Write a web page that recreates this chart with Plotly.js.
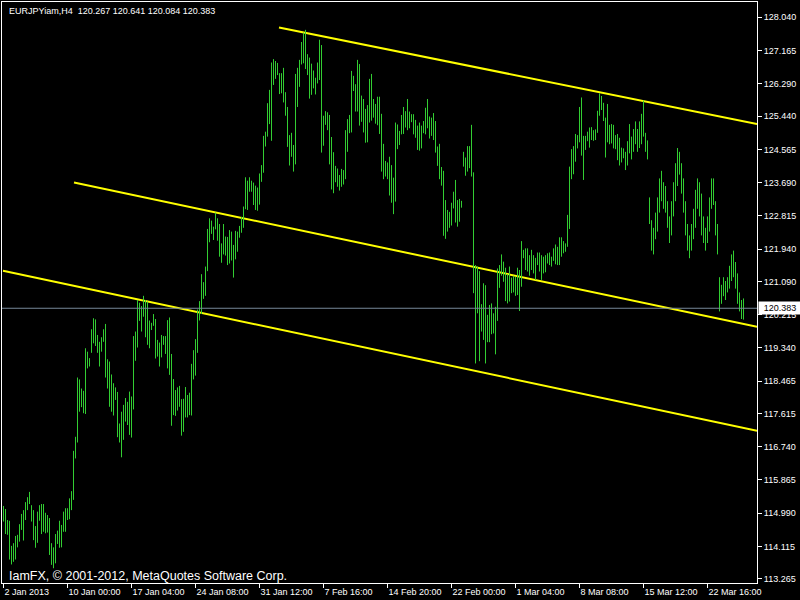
<!DOCTYPE html>
<html>
<head>
<meta charset="utf-8">
<script src="https://cdn.plot.ly/plotly-3.0.1.min.js"></script>
<style>
  html, body { margin: 0; padding: 0; background: #000; }
  #chart { width: 800px; height: 600px; }
</style>
</head>
<body>
<div id="chart"></div>
<script>
// EURJPY H4 bars, 2 Jan 2013 - 26 Mar 2013 (one entry per 4-hour bar)
const barHigh = [
  115.18,115.10,114.81,114.79,114.13,114.20,114.39,114.42,114.70,114.97,
  115.07,115.28,115.41,115.55,115.20,115.07,114.65,115.03,115.20,115.23,
  115.23,115.00,114.94,114.86,114.20,114.09,114.44,114.53,114.79,114.68,
  115.03,115.12,115.12,115.38,115.57,116.63,117.00,118.56,118.51,118.27,
  118.21,119.33,119.24,119.07,119.83,120.12,120.09,119.68,119.50,119.62,
  119.83,119.97,119.04,118.98,118.64,118.41,118.30,118.18,117.35,117.66,
  117.84,118.02,117.92,118.19,118.06,119.65,119.77,120.60,120.53,120.44,
  120.71,120.60,120.56,120.06,120.00,120.23,120.10,119.55,119.48,119.68,
  119.65,119.65,120.07,120.14,119.18,118.52,118.23,118.30,118.34,117.99,
  118.00,118.31,118.10,118.16,118.92,119.28,119.57,120.35,120.57,121.28,
  121.07,121.48,122.47,122.75,122.69,122.53,122.90,122.75,122.60,122.09,
  122.60,122.27,122.26,122.44,122.40,122.05,122.42,122.40,122.55,122.79,
  123.06,123.83,123.74,123.83,123.74,123.69,123.61,123.56,123.93,124.15,
  124.92,125.03,125.78,126.13,126.85,126.94,126.89,126.84,126.57,126.57,
  126.71,126.07,125.68,124.94,125.00,124.68,126.55,126.71,126.92,127.39,
  127.64,127.71,127.07,126.98,126.82,126.64,126.45,126.85,127.45,127.31,
  125.45,125.57,125.54,125.47,124.89,124.49,124.13,124.06,123.89,124.05,
  124.02,125.07,125.36,125.47,126.63,126.50,126.28,126.92,126.81,125.98,
  125.89,125.63,125.73,126.42,126.55,125.89,125.76,125.95,125.95,125.50,
  124.71,124.26,124.22,124.37,124.15,123.82,125.27,125.22,125.05,125.47,
  125.68,125.57,125.89,125.56,125.49,125.49,125.34,125.19,125.27,125.19,
  125.31,125.66,125.89,125.43,125.40,125.52,125.31,124.64,124.71,124.10,
  124.00,123.23,122.97,122.92,123.16,123.45,123.76,123.23,123.26,123.21,
  124.50,124.35,124.65,124.65,125.21,123.96,121.52,121.48,121.36,120.49,
  121.04,120.99,120.21,120.47,120.51,120.25,120.42,121.43,121.52,121.80,
  121.61,121.45,121.28,121.48,121.19,121.24,121.21,121.45,121.39,122.15,
  121.92,121.96,121.96,121.78,121.92,121.78,121.71,121.85,121.85,121.78,
  121.74,121.78,121.83,121.85,121.74,121.96,122.06,122.00,122.25,122.25,
  122.15,122.09,122.84,124.11,124.57,124.65,124.97,124.94,125.68,125.93,
  124.92,124.92,125.03,125.14,125.15,125.07,125.09,125.58,126.04,125.97,
  125.79,125.40,125.76,125.21,125.23,125.21,124.94,124.97,124.87,124.61,
  124.59,124.50,124.78,125.23,124.90,125.10,125.30,125.10,125.30,125.50,
  125.85,125.00,124.80,123.30,122.70,122.50,122.90,123.30,123.80,124.00,
  123.70,123.60,123.20,122.80,123.20,123.70,124.20,124.60,124.50,124.20,
  123.80,123.20,122.60,122.30,122.60,123.00,123.50,123.80,123.70,123.40,
  122.80,122.50,122.80,123.30,123.80,123.80,123.20,122.60,121.20,121.00,
  121.20,121.10,121.20,121.50,121.80,121.90,121.60,121.30,120.80,120.60,
  120.641
];
const barLow = [
  114.77,114.44,114.42,113.77,113.64,113.71,113.77,114.09,114.24,114.55,
  114.27,114.81,115.07,115.23,114.77,114.28,114.08,114.21,114.79,114.44,
  114.50,114.46,114.48,113.89,113.63,113.54,113.67,114.18,114.08,114.09,
  114.50,114.50,114.81,114.83,115.07,115.34,116.43,116.85,117.66,117.78,
  117.62,117.60,118.80,118.85,119.21,119.46,119.39,119.21,118.85,119.24,
  119.50,118.56,118.27,117.79,117.66,117.56,117.97,116.99,116.85,116.46,
  116.92,117.40,117.31,117.05,116.98,117.72,119.00,119.35,120.05,119.77,
  120.16,119.62,119.42,119.33,119.81,119.92,119.06,119.11,118.85,119.09,
  119.42,119.18,118.80,118.63,117.29,117.57,117.55,117.69,117.79,117.03,
  117.13,117.51,117.51,117.57,117.56,118.51,118.61,119.21,120.06,120.23,
  120.63,120.71,121.36,122.12,122.34,122.18,122.46,122.16,121.74,121.58,
  121.80,121.77,121.52,121.56,121.64,121.19,121.67,121.87,122.24,122.37,
  122.50,122.99,122.97,123.45,123.45,123.10,122.97,122.95,123.11,123.71,
  123.95,124.64,124.90,125.23,124.79,126.26,126.42,126.52,126.02,126.04,
  125.80,125.45,124.63,124.14,124.37,123.98,124.17,125.68,126.21,126.80,
  126.83,126.68,126.52,125.90,126.00,126.17,126.01,126.30,126.39,124.48,
  124.66,125.21,125.07,124.17,123.51,123.41,123.70,123.58,123.48,123.58,
  123.64,123.78,124.50,124.99,125.01,126.10,125.56,125.56,125.19,125.29,
  125.01,124.74,124.75,125.27,125.32,125.40,125.24,125.20,124.97,123.98,
  123.78,123.85,123.78,123.35,123.16,122.86,123.19,124.57,124.68,124.96,
  124.97,125.14,125.07,125.12,125.28,124.96,124.87,124.55,124.53,124.59,
  124.99,124.96,125.12,124.85,124.92,124.81,124.48,124.13,123.78,123.61,
  122.29,122.21,122.40,122.50,122.56,123.01,122.64,122.53,122.66,123.03,
  124.11,123.87,123.98,124.07,123.85,120.78,118.93,120.25,118.99,119.77,
  119.55,118.93,119.49,119.49,119.70,119.72,119.17,120.05,120.92,121.24,
  121.08,120.57,120.51,120.56,120.78,120.80,120.71,120.73,120.31,120.95,
  121.70,121.39,121.35,121.24,121.39,121.30,121.13,121.52,121.35,121.13,
  121.30,121.33,121.56,121.52,121.48,121.63,121.54,121.52,121.52,121.74,
  121.83,121.87,122.00,122.47,123.78,123.91,124.24,124.59,124.75,124.40,
  123.76,124.55,124.78,124.61,124.81,124.79,124.81,125.00,125.45,125.60,
  125.31,124.35,124.75,124.70,124.72,124.59,124.57,124.28,124.14,124.22,
  124.33,124.02,124.14,124.46,124.30,124.50,124.70,124.50,124.60,124.70,
  124.90,124.50,124.30,122.60,121.90,121.80,122.20,122.40,122.90,123.20,
  123.00,122.90,122.50,122.10,122.30,122.80,123.20,123.60,123.90,123.40,
  122.90,122.30,121.90,121.70,121.90,122.20,122.50,123.00,122.80,122.30,
  122.10,121.90,122.10,122.40,123.00,123.10,122.30,121.80,120.30,120.50,
  120.70,120.60,120.80,120.90,121.10,121.20,120.90,120.50,120.30,120.10,
  120.084
];

// Last bar quote shown in the header
const symbolName = 'EURJPYiam,H4';
const lastOpen = 120.267, lastHigh = 120.641, lastLow = 120.084, lastClose = 120.383;

// Time axis labels (every 32 bars)
const timeTickBars = [0, 32, 64, 96, 128, 160, 192, 224, 256, 288, 320, 352];
const timeTickLabels = ['2 Jan 2013', '10 Jan 00:00', '17 Jan 04:00', '24 Jan 08:00',
  '31 Jan 12:00', '7 Feb 16:00', '14 Feb 20:00', '22 Feb 00:00', '1 Mar 04:00',
  '8 Mar 08:00', '15 Mar 12:00', '22 Mar 16:00'];

// Price scale labels
const priceTickLabels = ['128.040', '127.165', '126.290', '125.440', '124.565', '123.690',
  '122.815', '121.940', '121.090', '120.215', '119.340', '118.465', '117.615', '116.740',
  '115.865', '114.990', '114.115', '113.265'];

// Descending channel trend lines: anchor (bar, price) pairs
const channelStartBar = [137.75, 35.25, -0.25];
const channelStartPrice = [127.772, 123.692, 121.368];
const channelEndBar = [376.75, 376.75, 376.75];
const channelEndPrice = [125.232, 119.897, 117.160];

const copyrightText = 'IamFX, \u00a9 2001-2012, MetaQuotes Software Corp.';

// ---- build traces ----
const segX = [], segY = [];
for (let i = 0; i < barHigh.length; i++) {
  segX.push(i, i, null);
  segY.push(barLow[i], barHigh[i], null);
}

const channelTraces = channelStartBar.map((b, k) => ({
  type: 'scatter', mode: 'lines',
  x: [b, channelEndBar[k]],
  y: [channelStartPrice[k], channelEndPrice[k]],
  line: { color: '#ffff00', width: 2 },
  hoverinfo: 'skip', showlegend: false
}));

const barTrace = {
  type: 'scatter', mode: 'lines',
  x: segX, y: segY,
  line: { color: '#32cd32', width: 1 },
  connectgaps: false, hoverinfo: 'skip', showlegend: false
};

const axisFont = { family: 'Liberation Sans, Arial, sans-serif', size: 9, color: '#ffffff' };

const layout = {
  width: 800, height: 600,
  paper_bgcolor: '#000000', plot_bgcolor: '#000000',
  margin: { l: 2, r: 43, t: 2, b: 17, pad: 0 },
  showlegend: false,
  xaxis: {
    range: [-0.75, 376.75],
    tickmode: 'array', tickvals: timeTickBars, ticktext: timeTickLabels,
    ticks: 'outside', ticklen: 4, tickwidth: 1, tickcolor: '#ffffff',
    ticklabelposition: 'outside right',
    tickfont: axisFont,
    showline: true, linecolor: '#ffffff', linewidth: 1, mirror: true,
    showgrid: false, zeroline: false, fixedrange: true
  },
  yaxis: {
    side: 'right',
    range: [113.152, 128.443],
    tickmode: 'array', tickvals: priceTickLabels.map(Number), ticktext: priceTickLabels,
    ticks: 'outside', ticklen: 4, tickwidth: 1, tickcolor: '#ffffff',
    tickfont: axisFont,
    showline: true, linecolor: '#ffffff', linewidth: 1, mirror: true,
    showgrid: false, zeroline: false, fixedrange: true
  },
  shapes: [{
    type: 'line', xref: 'paper', x0: 0, x1: 1, yref: 'y', y0: lastClose, y1: lastClose,
    line: { color: '#778899', width: 1 }, layer: 'above'
  }],
  annotations: [
    {
      xref: 'paper', yref: 'paper', x: 0.0066, y: 0.9845, xanchor: 'left', yanchor: 'middle',
      text: symbolName + '  ' + [lastOpen, lastHigh, lastLow, lastClose].map(v => v.toFixed(3)).join(' '),
      showarrow: false, font: { family: 'Liberation Sans, Arial, sans-serif', size: 9, color: '#ffffff' }
    },
    {
      xref: 'paper', yref: 'paper', x: 0.0066, y: 0.012, xanchor: 'left', yanchor: 'middle',
      text: copyrightText, showarrow: false,
      font: { family: 'Liberation Sans, Arial, sans-serif', size: 12.5, color: '#ffffff' }
    },
    {
      xref: 'paper', yref: 'y', x: 1, xshift: 1, y: lastClose, xanchor: 'left', yanchor: 'middle',
      text: lastClose.toFixed(3), showarrow: false, width: 40, align: 'center',
      bgcolor: '#ffffff', borderpad: 1,
      font: { family: 'Liberation Sans, Arial, sans-serif', size: 9, color: '#000000' }
    }
  ]
};

Plotly.newPlot('chart', [...channelTraces, barTrace], layout, { displayModeBar: false, staticPlot: true });
</script>
</body>
</html>
